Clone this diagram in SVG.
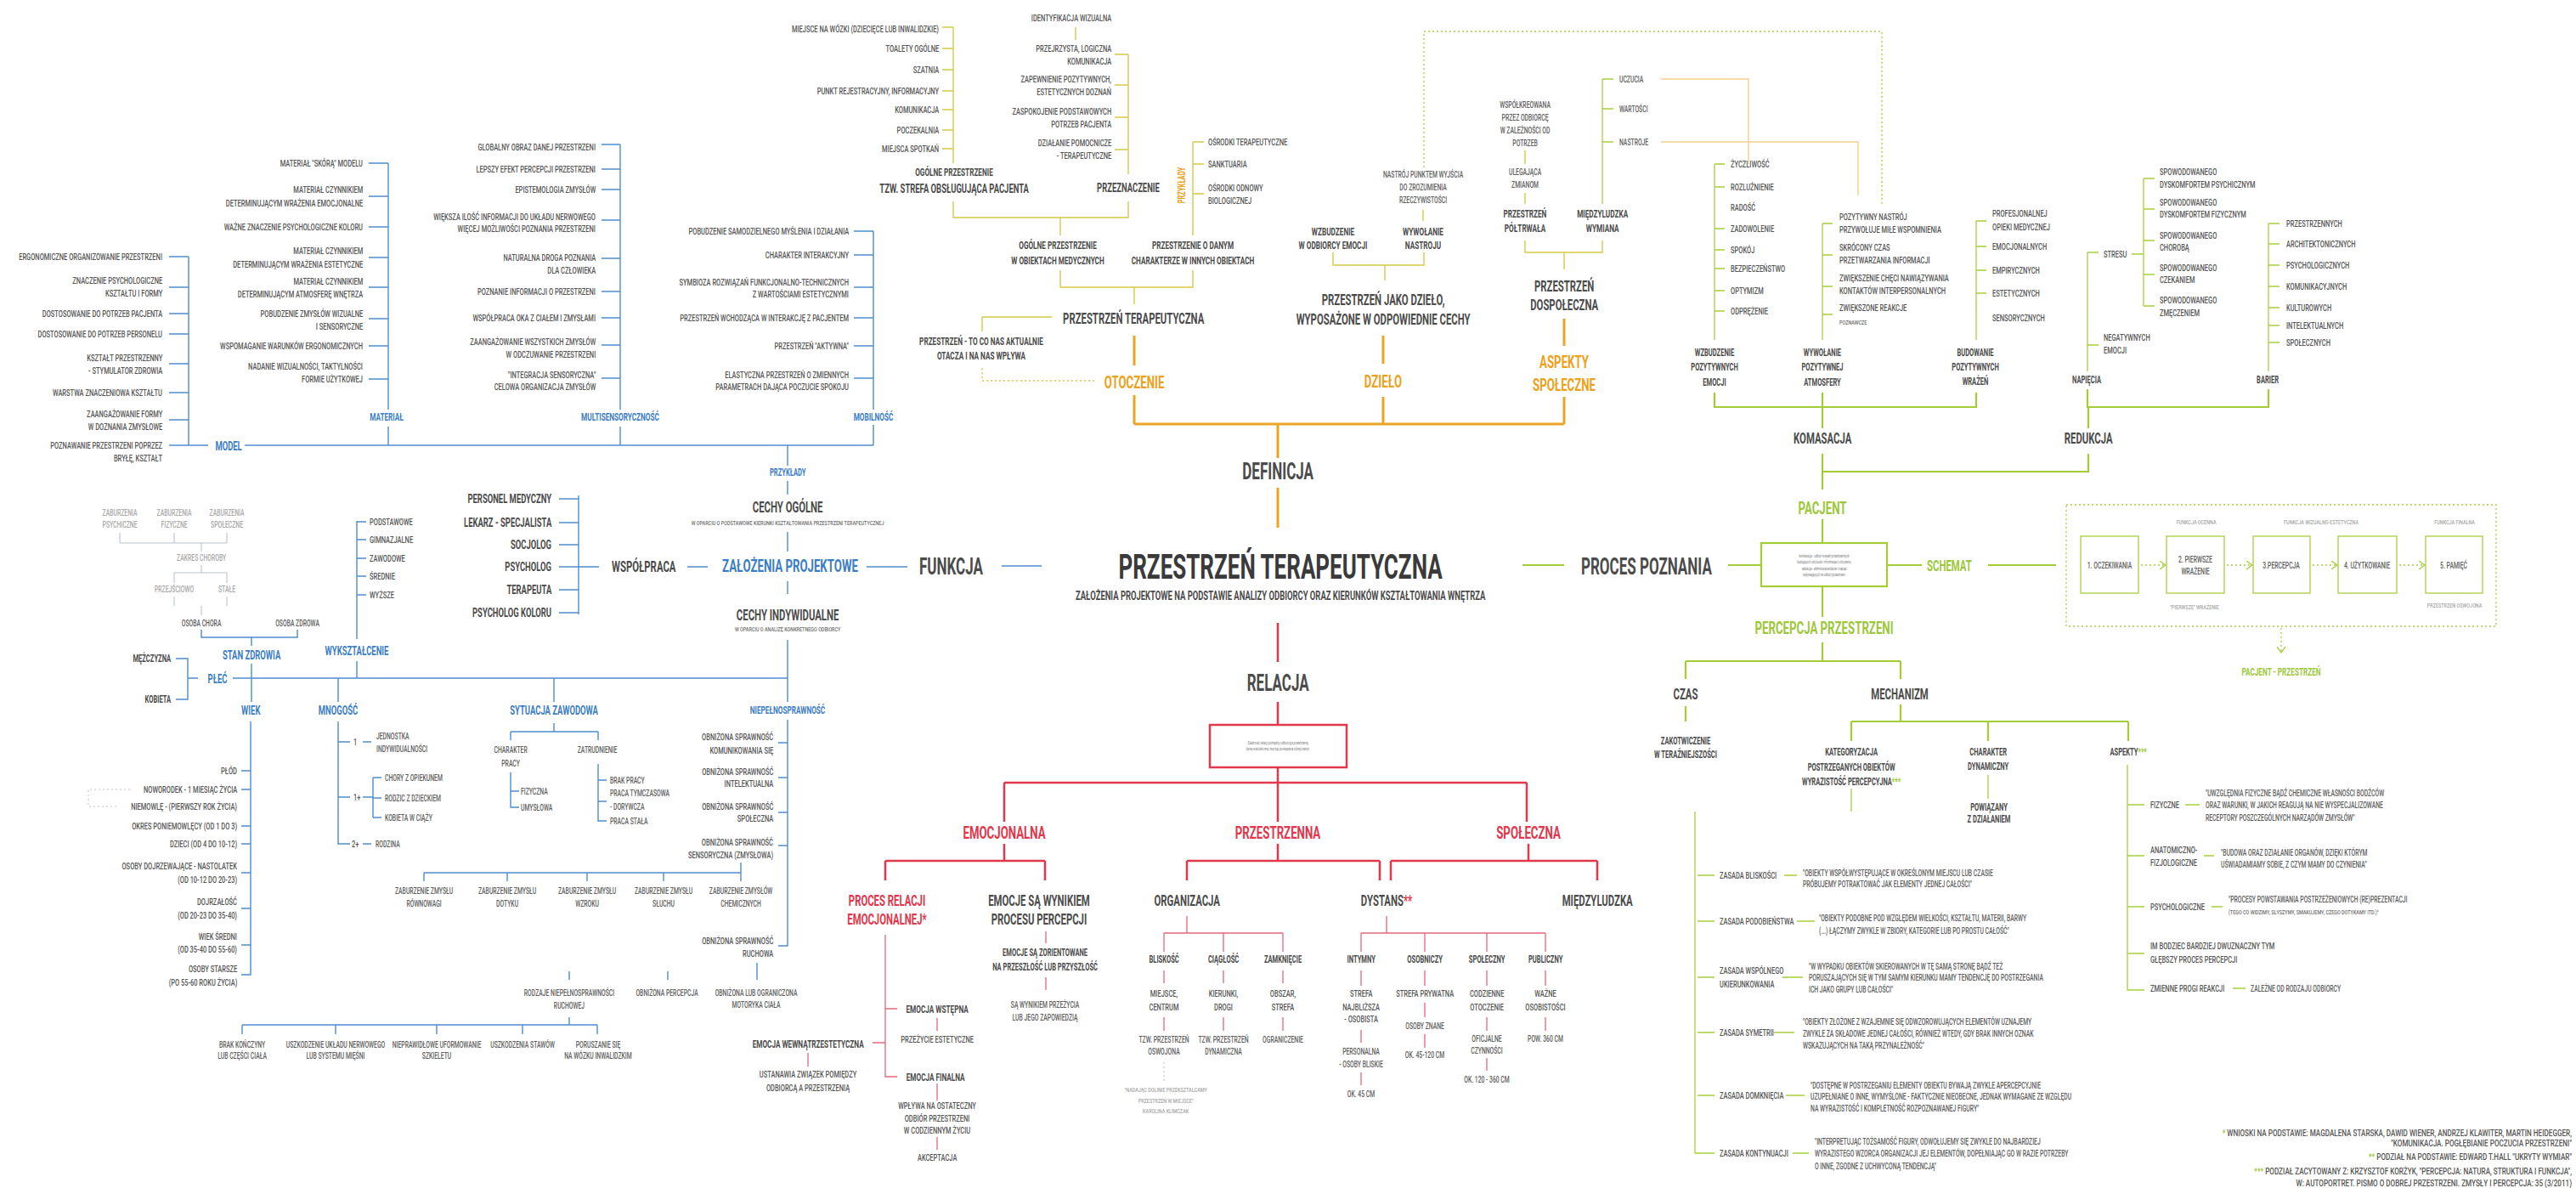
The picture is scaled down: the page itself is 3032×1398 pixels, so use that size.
<svg xmlns="http://www.w3.org/2000/svg" width="3032" height="1398" viewBox="0 0 3032 1398">
<style>
text{font-family:Roboto,"Liberation Sans",Arial,sans-serif;font-weight:700;fill:#4b4b4b;transform-box:fill-box;transform-origin:left center;transform:scaleX(.63)}
.c{text-anchor:middle;transform-origin:center}
.e{text-anchor:end;transform-origin:right center}
.xs{font-size:8px;font-weight:500;fill:#707070;transform:scaleX(.68)}
.s2{font-size:10px;font-weight:500;fill:#5e5e5e;transform:scaleX(.68)}
.s{font-size:11px;font-weight:500;fill:#555;transform:scaleX(.68)}
.fn{font-size:11px;font-weight:500;fill:#555;transform:scaleX(.74)}
.s3{font-size:12px}
.m{font-size:13px}
.m2{font-size:15px}
.ml{font-size:18px}
.l{font-size:21px}
.xl{font-size:27px}
.tt{font-size:40px;fill:#3a3a3a;transform:scaleX(.65)}
.b{fill:#3a7dc5}
.o{fill:#eba11a}
.r{fill:#e1364b}
.g{fill:#9dc73a}
.lt{fill:#a8a8a8}
.cb{stroke:#4f8dcd;stroke-width:1.4;fill:none}
.cgy{stroke:#b9c3cc;stroke-width:1.1;fill:none}
.cy{stroke:#d6ca45;stroke-width:1.4;fill:none}
.co{stroke:#eba524;stroke-width:3;fill:none}
.clo{stroke:#f2d08a;stroke-width:1.4;fill:none}
.cr{stroke:#e2384c;stroke-width:2.5;fill:none}
.cr1{stroke:#e5677a;stroke-width:1.3;fill:none}
.cg{stroke:#a3cc35;stroke-width:2.2;fill:none}
.cg1{stroke:#a8cf3e;stroke-width:1.3;fill:none}
.dot{stroke-dasharray:2 3}
</style>
<defs>
<marker id="chev" viewBox="0 0 8 10" refX="7" refY="5" markerWidth="8" markerHeight="10" markerUnits="userSpaceOnUse" orient="auto">
<path d="M0 0L7 5L0 10" fill="none" stroke="#a3cc35" stroke-width="1.3"/>
</marker>
</defs>
<rect width="3032" height="1398" fill="#ffffff"/>

<!-- connectors -->
<g id="connectors">
<!-- funkcja: model / materiał / multisensoryczność / mobilność -->
<path class="cb" d="M222 302V524M199 302H222M199 338H222M199 369H222M199 393H222M199 428H222M199 462H222M199 494H222M199 524H245M288 524H1028M457 192V482M434 192H457M434 231H457M434 267H457M434 303H457M434 338H457M434 375H457M434 407H457M434 446H457M457 502V524M730 170V482M708 170H730M708 199H730M708 223H730M708 259H730M708 304H730M708 343H730M708 374H730M708 406H730M708 445H730M730 502V524M1028 272V482M1005 272H1028M1005 300H1028M1005 338H1028M1005 374H1028M1005 407H1028M1005 445H1028M1028 500V524"/>
<path class="cb" d="M927 524V548M927 566V582M927 626V649M927 684V699M927 753V826M274 798H927M681 583V723M658 587H681M658 615H681M658 641H681M658 667H681M658 694H681M658 721H681M681 667H705"/>
<path class="cb" stroke-width="2.2" d="M809 667H833M1020 667H1068"/>
<path class="cb" stroke-width="4.5" d="M1179 666H1226"/>
<!-- odbiorca -->
<path class="cb" d="M207 775H221V823H207M221 798H233M296 750V760M296 781V826M420 778V798M420 613V752M420 614H431M420 635H431M420 657H431M420 678H431M420 700H431M398 798V826M652 798V826M237 741V750H350V741"/>
<path class="cgy" d="M141 627V639M205 627V639M267 627V639M141 639H267M237 639V649M237 665V674M205 674H267M205 674V686M267 674V686M205 702V713M267 702V713M237 713V724"/>
<path class="cb" d="M398 849V993H412M398 873H412M427 873H437M398 938H412M427 938H439M439 915V962M439 915H449M439 939H449M439 962H449M427 993H437M652 851V861M601 861H704M601 861V871M704 861V871M601 909V950H611M601 931H611M704 899V966H714M704 918H714M704 943H714"/>
<path class="cb" d="M295 849V1147H284M284 907H295M284 929H295M284 972H295M284 993H295M284 1027H295M284 1069H295M284 1112H295"/>
<path class="cgy dot" d="M153 929H104V949H138"/>
<path class="cb" d="M927 847V1113H916M916 874H927M916 915H927M916 956H927M916 995H927M872 1015V1027M499 1027H872M499 1027V1037M597 1027V1037M691 1027V1037M781 1027V1037M872 1027V1037M891 1133V1153M786 1143V1153M670 1143V1153M670 1197V1206M285 1206H703M285 1206V1217M395 1206V1217M514 1206V1217M615 1206V1217M703 1206V1217"/>
<!-- definicja -->
<path class="cy" d="M1122 32V192M1109 32H1122M1109 57H1122M1109 82H1122M1109 107H1122M1109 129H1122M1109 153H1122M1109 175H1122M1122 237V256H1328V237M1248 256V277M1266 32V47M1328 64V205M1312 64H1328M1312 100H1328M1312 138H1328M1312 176H1328M1404 167V277M1404 167H1417M1404 193H1417M1404 228H1417M1248 318V338H1404V318M1335 338V358M1156 390V373H1238M1569 297V312H1676V297M1630 312V330M1675 247V260M1795 177V193M1795 227V240M1795 283V297H1886V283M1841 297V317"/>
<path class="cg1" d="M1886 93V240M1886 93H1899M1886 128H1899M1886 167H1899"/>
<path class="clo" d="M1955 93H2058V193M1955 167H2187V230"/>
<path class="cg1 dot" d="M1676 197V37H2215V240"/>
<path class="cy dot" d="M1156 433V448H1290"/>
<path class="co" d="M1335 395V430M1335 465V499M1335 499H1841M1504 499V539M1504 574V621M1628 395V428M1628 467V499M1841 375V407M1841 467V499"/>
<!-- relacja -->
<path class="cr" d="M1504 733V779M1504 826V853M1504 903V921M1182 921H1797M1182 921V967M1504 921V967M1797 921V967M1182 993V1013M1042 1013H1230M1042 1013V1036M1230 1013V1036M1504 993V1013M1397 1013H1624M1397 1013V1036M1624 1013V1036M1799 993V1013M1637 1013H1880M1637 1013V1036M1880 1013V1036"/>
<rect class="cr" x="1424" y="853" width="161" height="50"/>
<path class="cr1" d="M1042 1100V1267H1056M1042 1187H1056M1027 1227H1042M1231 1096V1110M1231 1150V1165M1103 1198V1213M951 1239V1255M1103 1275V1295M1103 1338V1353M1397 1078V1098M1370 1098H1510M1370 1098V1120M1440 1098V1120M1510 1098V1120M1370 1142V1157M1440 1142V1157M1510 1142V1157M1370 1197V1213M1440 1197V1213M1510 1197V1213M1632 1078V1098M1602 1098H1819M1602 1098V1120M1677 1098V1120M1750 1098V1120M1819 1098V1120M1602 1142V1160M1677 1142V1160M1750 1142V1160M1819 1142V1160M1602 1212V1227M1602 1262V1277M1677 1180V1197M1677 1217V1233M1750 1197V1213M1750 1245V1260M1819 1197V1213"/>
<path class="cgy dot" d="M1370 1250V1273"/>
<!-- proces poznania -->
<path class="cg1" d="M2018 193V400M2018 193H2030M2018 220H2030M2018 269H2030M2018 294H2030M2018 316H2030M2018 342H2030M2018 366H2030M2145 263V400M2145 263H2157M2145 300H2157M2145 337H2157M2145 370H2157M2326 260V400M2326 260H2338M2326 290H2338M2326 318H2338M2326 345H2338M2457 297V437M2457 297H2470M2457 406H2470M2509 299H2523M2523 210V360M2523 210H2536M2523 246H2536M2523 283H2536M2523 323H2536M2523 360H2536M2670 263V437M2670 263H2683M2670 287H2683M2670 312H2683M2670 337H2683M2670 362H2683M2670 383H2683M2670 403H2683"/>
<path class="cg" d="M2018 462V479H2326V462M2145 462V504M2145 534V576M2145 555H2458V534M2457 458V479H2670V458M2458 479V504M2145 611V639M2034 665H2073M2221 665H2262M2340 665H2420M2145 690V726M2145 756V778M1984 778H2237M1984 778V799M2237 778V799M1984 831V849M2237 829V849M2179 849H2505M2179 849V872M2340 849V872M2505 849V872"/>
<path class="cg" stroke-width="5" d="M1792 665H1841"/>
<rect class="cg" x="2073" y="639" width="148" height="51"/>
<path class="cg1" d="M2340 912V940M2179 928V955M1995 955V1357H2018M1998 1030H2018M1998 1084H2018M1998 1150H2018M1998 1215H2018M1998 1289H2018M2100 1030H2115M2115 1084H2136M2098 1150H2122M2088 1215H2112M2102 1289H2124M2110 1357H2129M2504 900V1165H2524M2504 947H2524M2504 1007H2524M2504 1067H2524M2504 1122H2524M2572 947H2589M2594 1007H2606M2603 1067H2616M2628 1163H2643"/>
<rect class="cg1 dot" x="2432" y="594" width="506" height="143"/>
<rect class="cg1" x="2449" y="631" width="68" height="67"/>
<rect class="cg1" x="2550" y="631" width="68" height="67"/>
<rect class="cg1" x="2652" y="631" width="67" height="67"/>
<rect class="cg1" x="2752" y="631" width="69" height="67"/>
<rect class="cg1" x="2855" y="631" width="67" height="67"/>
<path class="cg1 dot" marker-end="url(#chev)" d="M2520 665H2549"/>
<path class="cg1 dot" marker-end="url(#chev)" d="M2621 665H2651"/>
<path class="cg1 dot" marker-end="url(#chev)" d="M2722 665H2751"/>
<path class="cg1 dot" marker-end="url(#chev)" d="M2824 665H2854"/>
<path class="cg1 dot" marker-end="url(#chev)" d="M2685 739V768"/>
</g>

<!-- central title -->
<g id="title"><text class="tt c" x="1507" y="681">PRZESTRZEŃ TERAPEUTYCZNA</text><text class="m2 c" x="1507" y="706">ZAŁOŻENIA PROJEKTOWE NA PODSTAWIE ANALIZY ODBIORCY ORAZ KIERUNKÓW KSZTAŁTOWANIA WNĘTRZA</text></g>
<g id="funkcja"><text class="xl" x="1082" y="676">FUNKCJA</text></g>
<g id="definicja"><text class="xl c" x="1504" y="564">DEFINICJA</text></g>
<g id="relacja"><text class="xl c" x="1504" y="813">RELACJA</text></g>
<g id="proces-poznania"><text class="xl" x="1861" y="676">PROCES POZNANIA</text></g>

<!-- funkcja branch -->
<g id="zalozenia"><text class="l b c" x="930" y="673">ZAŁOŻENIA PROJEKTOWE</text></g>
<g id="wspolpraca"><text class="ml" x="720" y="673">WSPÓŁPRACA</text></g>
<g id="cechy-ogolne"><text class="ml c" x="927" y="603">CECHY OGÓLNE</text><text class="xs c" x="927" y="618">W OPARCIU O PODSTAWOWE KIERUNKI KSZTAŁTOWANIA PRZESTRZENI TERAPEUTYCZNEJ</text></g>
<g id="cechy-indywidualne"><text class="ml c" x="927" y="730">CECHY INDYWIDUALNE</text><text class="xs c" x="927" y="743">W OPARCIU O ANALIZĘ KONKRETNEGO ODBIORCY</text></g>
<g id="przyklady-f"><text class="s3 b c" x="927" y="560">PRZYKŁADY</text></g>
<g id="model"><text class="m2 b c" x="269" y="530">MODEL</text></g>
<g id="material"><text class="m b c" x="455" y="495">MATERIAŁ</text></g>
<g id="multisens"><text class="m b c" x="730" y="495">MULTISENSORYCZNOŚĆ</text></g>
<g id="mobilnosc"><text class="m b c" x="1028" y="495">MOBILNOŚĆ</text></g>

<g id="model-items">
<text class="s e" x="191" y="306">ERGONOMICZNE ORGANIZOWANIE PRZESTRZENI</text>
<text class="s e" x="191" y="334">ZNACZENIE PSYCHOLOGICZNE<tspan x="191" y="349">KSZTAŁTU I FORMY</tspan></text>
<text class="s e" x="191" y="373">DOSTOSOWANIE DO  POTRZEB PACJENTA</text>
<text class="s e" x="191" y="397">DOSTOSOWANIE DO POTRZEB PERSONELU</text>
<text class="s e" x="191" y="425">KSZTAŁT PRZESTRZENNY<tspan x="191" y="440">- STYMULATOR ZDROWIA</tspan></text>
<text class="s e" x="191" y="466">WARSTWA ZNACZENIOWA KSZTAŁTU</text>
<text class="s e" x="191" y="491">ZAANGAŻOWANIE FORMY<tspan x="191" y="506">W DOZNANIA ZMYSŁOWE</tspan></text>
<text class="s e" x="191" y="528">POZNAWANIE PRZESTRZENI POPRZEZ<tspan x="191" y="543">BRYŁĘ, KSZTAŁT</tspan></text>
</g>
<g id="material-items">
<text class="s e" x="427" y="196">MATERIAŁ "SKÓRĄ" MODELU</text>
<text class="s e" x="427" y="227">MATERIAŁ CZYNNIKIEM<tspan x="427" y="243">DETERMINUJĄCYM WRAŻENIA EMOCJONALNE</tspan></text>
<text class="s e" x="427" y="271">WAŻNE ZNACZENIE PSYCHOLOGICZNE KOLORU</text>
<text class="s e" x="427" y="299">MATERIAŁ CZYNNIKIEM<tspan x="427" y="315">DETERMINUJĄCYM WRAŻENIA ESTETYCZNE</tspan></text>
<text class="s e" x="427" y="335">MATERIAŁ CZYNNIKIEM<tspan x="427" y="350">DETERMINUJĄCYM ATMOSFERĘ WNĘTRZA</tspan></text>
<text class="s e" x="427" y="373">POBUDZENIE ZMYSŁÓW WIZUALNE<tspan x="427" y="388">I SENSORYCZNE</tspan></text>
<text class="s e" x="427" y="411">WSPOMAGANIE WARUNKÓW ERGONOMICZNYCH</text>
<text class="s e" x="427" y="435">NADANIE WIZUALNOŚCI, TAKTYLNOŚCI<tspan x="427" y="450">FORMIE UŻYTKOWEJ</tspan></text>
</g>
<g id="multisens-items">
<text class="s e" x="701" y="177">GLOBALNY OBRAZ DANEJ PRZESTRZENI</text>
<text class="s e" x="701" y="203">LEPSZY EFEKT PERCEPCJI PRZESTRZENI</text>
<text class="s e" x="701" y="227">EPISTEMOLOGIA ZMYSŁÓW</text>
<text class="s e" x="701" y="259">WIĘKSZA ILOŚĆ INFORMACJI DO UKŁADU NERWOWEGO<tspan x="701" y="273">WIĘCEJ MOŻLIWOŚCI POZNANIA PRZESTRZENI</tspan></text>
<text class="s e" x="701" y="307">NATURALNA DROGA POZNANIA<tspan x="701" y="322">DLA CZŁOWIEKA</tspan></text>
<text class="s e" x="701" y="347">POZNANIE INFORMACJI O PRZESTRZENI</text>
<text class="s e" x="701" y="378">WSPÓŁPRACA OKA Z CIAŁEM I ZMYSŁAMI</text>
<text class="s e" x="701" y="406">ZAANGAŻOWANIE WSZYSTKICH ZMYSŁÓW<tspan x="701" y="421">W ODCZUWANIE PRZESTRZENI</tspan></text>
<text class="s e" x="701" y="445">"INTEGRACJA SENSORYCZNA"<tspan x="701" y="459">CELOWA ORGANIZACJA ZMYSŁÓW</tspan></text>
</g>
<g id="mobilnosc-items">
<text class="s e" x="999" y="276">POBUDZENIE SAMODZIELNEGO MYŚLENIA I DZIAŁANIA</text>
<text class="s e" x="999" y="304">CHARAKTER INTERAKCYJNY</text>
<text class="s e" x="999" y="336">SYMBIOZA ROZWIĄZAŃ FUNKCJONALNO-TECHNICZNYCH<tspan x="999" y="350">Z WARTOŚCIAMI ESTETYCZNYMI</tspan></text>
<text class="s e" x="999" y="378">PRZESTRZEŃ WCHODZĄCA W INTERAKCJĘ Z PACJENTEM</text>
<text class="s e" x="999" y="411">PRZESTRZEŃ "AKTYWNA"</text>
<text class="s e" x="999" y="445">ELASTYCZNA PRZESTRZEŃ O ZMIENNYCH<tspan x="999" y="459">PARAMETRACH DAJĄCA POCZUCIE SPOKOJU</tspan></text>
</g>
<g id="personel">
<text class="m2 e" x="649" y="592">PERSONEL MEDYCZNY</text>
<text class="m2 e" x="649" y="620">LEKARZ - SPECJALISTA</text>
<text class="m2 e" x="649" y="646">SOCJOLOG</text>
<text class="m2 e" x="649" y="672">PSYCHOLOG</text>
<text class="m2 e" x="649" y="699">TERAPEUTA</text>
<text class="m2 e" x="649" y="726">PSYCHOLOG KOLORU</text>
</g>

<!-- odbiorca -->
<g id="plec"><text class="m2 b c" x="256" y="804">PŁEĆ</text></g>
<g id="plec-items"><text class="s3 e" x="201" y="779">MĘŻCZYZNA</text><text class="s3 e" x="201" y="827">KOBIETA</text></g>
<g id="stan-zdrowia"><text class="m2 b c" x="296" y="776">STAN ZDROWIA</text></g>
<g id="zdrowie-items">
<text class="s2 c lt" x="141" y="607">ZABURZENIA<tspan x="141" y="621">PSYCHICZNE</tspan></text>
<text class="s2 c lt" x="205" y="607">ZABURZENIA<tspan x="205" y="621">FIZYCZNE</tspan></text>
<text class="s2 c lt" x="267" y="607">ZABURZENIA<tspan x="267" y="621">SPOŁECZNE</tspan></text>
<text class="s2 c lt" x="237" y="660">ZAKRES CHOROBY</text>
<text class="s2 c lt" x="205" y="697">PRZEJŚCIOWO</text>
<text class="s2 c lt" x="267" y="697">STAŁE</text>
<text class="s2 c" x="237" y="737">OSOBA CHORA</text>
<text class="s2 c" x="350" y="737">OSOBA ZDROWA</text>
</g>
<g id="wyksztalcenie"><text class="m2 b c" x="420" y="771">WYKSZTAŁCENIE</text></g>
<g id="wyksztalcenie-items">
<text class="s" x="435" y="618">PODSTAWOWE</text>
<text class="s" x="435" y="639">GIMNAZJALNE</text>
<text class="s" x="435" y="661">ZAWODOWE</text>
<text class="s" x="435" y="682">ŚREDNIE</text>
<text class="s" x="435" y="704">WYŻSZE</text>
</g>
<g id="wiek"><text class="m2 b c" x="295" y="841">WIEK</text></g>
<g id="wiek-items">
<text class="s e" x="279" y="911">PŁÓD</text>
<text class="s e" x="279" y="933">NOWORODEK - 1 MIESIĄC ŻYCIA</text>
<text class="s e" x="279" y="953">NIEMOWLĘ - (PIERWSZY ROK ŻYCIA)</text>
<text class="s e" x="279" y="976">OKRES PONIEMOWLĘCY (OD 1 DO 3)</text>
<text class="s e" x="279" y="997">DZIECI (OD 4 DO 10-12)</text>
<text class="s e" x="279" y="1023">OSOBY DOJRZEWAJĄCE - NASTOLATEK<tspan x="279" y="1039">(OD 10-12 DO 20-23)</tspan></text>
<text class="s e" x="279" y="1065">DOJRZAŁOŚĆ<tspan x="279" y="1081">(OD 20-23 DO 35-40)</tspan></text>
<text class="s e" x="279" y="1106">WIEK ŚREDNI<tspan x="279" y="1121">(OD 35-40 DO 55-60)</tspan></text>
<text class="s e" x="279" y="1144">OSOBY STARSZE<tspan x="279" y="1160">(PO 55-60 ROKU ŻYCIA)</tspan></text>
</g>
<g id="mnogosc"><text class="m2 b c" x="398" y="841">MNOGOŚĆ</text></g>
<g id="mnogosc-items">
<text class="s" x="416" y="877">1</text>
<text class="s2" x="443" y="870">JEDNOSTKA<tspan x="443" y="885">INDYWIDUALNOŚCI</tspan></text>
<text class="s" x="416" y="942">1+</text>
<text class="s2" x="453" y="919">CHORY Z OPIEKUNEM</text>
<text class="s2" x="453" y="943">RODZIC Z DZIECKIEM</text>
<text class="s2" x="453" y="966">KOBIETA W CIĄŻY</text>
<text class="s" x="414" y="997">2+</text>
<text class="s2" x="442" y="997">RODZINA</text>
</g>
<g id="sytuacja"><text class="m2 b c" x="652" y="841">SYTUACJA ZAWODOWA</text></g>
<g id="sytuacja-items">
<text class="s2 c" x="601" y="886">CHARAKTER<tspan x="601" y="902">PRACY</tspan></text>
<text class="s2 c" x="703" y="886">ZATRUDNIENIE</text>
<text class="s2" x="613" y="935">FIZYCZNA</text>
<text class="s2" x="613" y="954">UMYSŁOWA</text>
<text class="s2" x="718" y="922">BRAK PRACY</text>
<text class="s2" x="718" y="937">PRACA TYMCZASOWA</text>
<text class="s2" x="718" y="953">- DORYWCZA</text>
<text class="s2" x="718" y="970">PRACA STAŁA</text>
</g>
<g id="niepelnosprawnosc"><text class="m b c" x="927" y="840">NIEPEŁNOSPRAWNOŚĆ</text></g>
<g id="niepelno-items">
<text class="s e" x="910" y="871">OBNIŻONA SPRAWNOŚĆ<tspan x="910" y="887">KOMUNIKOWANIA SIĘ</tspan></text>
<text class="s e" x="910" y="912">OBNIŻONA SPRAWNOŚĆ<tspan x="910" y="926">INTELEKTUALNA</tspan></text>
<text class="s e" x="910" y="953">OBNIŻONA SPRAWNOŚĆ<tspan x="910" y="967">SPOŁECZNA</tspan></text>
<text class="s e" x="910" y="995">OBNIŻONA SPRAWNOŚĆ<tspan x="910" y="1010">SENSORYCZNA (ZMYSŁOWA)</tspan></text>
<text class="s e" x="910" y="1111">OBNIŻONA SPRAWNOŚĆ<tspan x="910" y="1126">RUCHOWA</tspan></text>
</g>
<g id="zmysly-items">
<text class="s2 c" x="499" y="1052">ZABURZENIE ZMYSŁU<tspan x="499" y="1067">RÓWNOWAGI</tspan></text>
<text class="s2 c" x="597" y="1052">ZABURZENIE ZMYSŁU<tspan x="597" y="1067">DOTYKU</tspan></text>
<text class="s2 c" x="691" y="1052">ZABURZENIE ZMYSŁU<tspan x="691" y="1067">WZROKU</tspan></text>
<text class="s2 c" x="781" y="1052">ZABURZENIE ZMYSŁU<tspan x="781" y="1067">SŁUCHU</tspan></text>
<text class="s2 c" x="872" y="1052">ZABURZENIE ZMYSŁÓW<tspan x="872" y="1067">CHEMICZNYCH</tspan></text>
</g>
<g id="ruch-items">
<text class="s2 c" x="890" y="1172">OBNIŻONA LUB OGRANICZONA<tspan x="890" y="1186">MOTORYKA CIAŁA</tspan></text>
<text class="s2 c" x="785" y="1172">OBNIŻONA PERCEPCJA</text>
<text class="s2 c" x="670" y="1172">RODZAJE NIEPEŁNOSPRAWNOŚCI<tspan x="670" y="1187">RUCHOWEJ</tspan></text>
<text class="s2 c" x="285" y="1233">BRAK KOŃCZYNY<tspan x="285" y="1246">LUB CZĘŚCI CIAŁA</tspan></text>
<text class="s2 c" x="395" y="1233">USZKODZENIE UKŁADU NERWOWEGO<tspan x="395" y="1246">LUB SYSTEMU MIĘŚNI</tspan></text>
<text class="s2 c" x="514" y="1233">NIEPRAWIDŁOWE UFORMOWANIE<tspan x="514" y="1246">SZKIELETU</tspan></text>
<text class="s2 c" x="615" y="1233">USZKODZENIA STAWÓW</text>
<text class="s2 c" x="704" y="1233">PORUSZANIE SIĘ<tspan x="704" y="1246">NA WÓZKU INWALIDZKIM</tspan></text>
</g>

<!-- definicja branch -->
<g id="otoczenie"><text class="l o c" x="1335" y="457">OTOCZENIE</text></g>
<g id="dzielo"><text class="l o c" x="1628" y="456">DZIEŁO</text></g>
<g id="aspekty-spoleczne"><text class="l o c" x="1841" y="433">ASPEKTY<tspan x="1841" y="460">SPOŁECZNE</tspan></text></g>
<g id="przestrzen-ter"><text class="ml c" x="1334" y="381">PRZESTRZEŃ TERAPEUTYCZNA</text></g>
<g id="to-co-nas"><text class="m c" x="1155" y="406">PRZESTRZEŃ - TO CO NAS AKTUALNIE<tspan x="1155" y="423">OTACZA I NA NAS WPŁYWA</tspan></text></g>
<g id="ogolne-med"><text class="m c" x="1245" y="293">OGÓLNE PRZESTRZENIE<tspan x="1245" y="311">W OBIEKTACH MEDYCZNYCH</tspan></text></g>
<g id="o-danym"><text class="m c" x="1404" y="293">PRZESTRZENIE O DANYM<tspan x="1404" y="311">CHARAKTERZE W INNYCH OBIEKTACH</tspan></text></g>
<g id="strefa"><text class="m c" x="1123" y="207">OGÓLNE PRZESTRZENIE</text><text class="m2 c" x="1123" y="227">TZW. STREFA OBSŁUGUJĄCA PACJENTA</text></g>
<g id="strefa-items">
<text class="s e" x="1105" y="38">MIEJSCE NA WÓZKI (DZIECIĘCE LUB INWALIDZKIE)</text>
<text class="s e" x="1105" y="61">TOALETY OGÓLNE</text>
<text class="s e" x="1105" y="86">SZATNIA</text>
<text class="s e" x="1105" y="111">PUNKT REJESTRACYJNY, INFORMACYJNY</text>
<text class="s e" x="1105" y="133">KOMUNIKACJA</text>
<text class="s e" x="1105" y="157">POCZEKALNIA</text>
<text class="s e" x="1105" y="179">MIEJSCA SPOTKAŃ</text>
</g>
<g id="przeznaczenie"><text class="m2 c" x="1328" y="226">PRZEZNACZENIE</text></g>
<g id="przeznaczenie-items">
<text class="s e" x="1308" y="25">IDENTYFIKACJA WIZUALNA</text>
<text class="s e" x="1308" y="61">PRZEJRZYSTA, LOGICZNA<tspan x="1308" y="76">KOMUNIKACJA</tspan></text>
<text class="s e" x="1308" y="97">ZAPEWNIENIE POZYTYWNYCH,<tspan x="1308" y="112">ESTETYCZNYCH DOZNAŃ</tspan></text>
<text class="s e" x="1308" y="135">ZASPOKOJENIE PODSTAWOWYCH<tspan x="1308" y="150">POTRZEB PACJENTA</tspan></text>
<text class="s e" x="1308" y="172">DZIAŁANIE POMOCNICZE<tspan x="1308" y="187">- TERAPEUTYCZNE</tspan></text>
</g>
<g id="przyklady-d"><text class="s3 o c" x="1390" y="222" style="transform:rotate(-90deg) scaleX(.63)">PRZYKŁADY</text></g>
<g id="przyklady-items">
<text class="s" x="1422" y="171">OŚRODKI TERAPEUTYCZNE</text>
<text class="s" x="1422" y="197">SANKTUARIA</text>
<text class="s" x="1422" y="225">OŚRODKI ODNOWY<tspan x="1422" y="240">BIOLOGICZNEJ</tspan></text>
</g>
<g id="dzielo-cechy"><text class="ml c" x="1628" y="359">PRZESTRZEŃ JAKO DZIEŁO,<tspan x="1628" y="382">WYPOSAŻONE W ODPOWIEDNIE CECHY</tspan></text></g>
<g id="wzbudzenie-emocji"><text class="m c" x="1569" y="277">WZBUDZENIE<tspan x="1569" y="293">W ODBIORCY EMOCJI</tspan></text></g>
<g id="wywolanie-nastroju"><text class="m c" x="1675" y="277">WYWOŁANIE<tspan x="1675" y="293">NASTROJU</tspan></text></g>
<g id="nastroj-punkt"><text class="s2 c" x="1675" y="209">NASTRÓJ PUNKTEM WYJŚCIA<tspan x="1675" y="224">DO ZROZUMIENIA</tspan><tspan x="1675" y="239">RZECZYWISTOŚCI</tspan></text></g>
<g id="dospoleczna"><text class="ml c" x="1841" y="343">PRZESTRZEŃ<tspan x="1841" y="365">DOSPOŁECZNA</tspan></text></g>
<g id="poltrwala"><text class="m c" x="1795" y="256">PRZESTRZEŃ<tspan x="1795" y="273">PÓŁTRWAŁA</tspan></text></g>
<g id="wymiana"><text class="m c" x="1886" y="256">MIĘDZYLUDZKA<tspan x="1886" y="273">WYMIANA</tspan></text></g>
<g id="ulegajaca"><text class="s2 c" x="1795" y="206">ULEGAJĄCA<tspan x="1795" y="221">ZMIANOM</tspan></text></g>
<g id="wspolkreowana"><text class="s2 c" x="1795" y="127">WSPÓŁKREOWANA<tspan x="1795" y="142">PRZEZ ODBIORCĘ</tspan><tspan x="1795" y="157">W ZALEŻNOŚCI OD</tspan><tspan x="1795" y="172">POTRZEB</tspan></text></g>
<g id="wymiana-items">
<text class="s2" x="1906" y="97">UCZUCIA</text>
<text class="s2" x="1906" y="132">WARTOŚCI</text>
<text class="s2" x="1906" y="171">NASTROJE</text>
</g>

<!-- proces poznania branch -->
<g id="emocje-items">
<text class="s" x="2037" y="197">ŻYCZLIWOŚĆ</text>
<text class="s" x="2037" y="224">ROZLUŹNIENIE</text>
<text class="s" x="2037" y="248">RADOŚĆ</text>
<text class="s" x="2037" y="273">ZADOWOLENIE</text>
<text class="s" x="2037" y="298">SPOKÓJ</text>
<text class="s" x="2037" y="320">BEZPIECZEŃSTWO</text>
<text class="s" x="2037" y="346">OPTYMIZM</text>
<text class="s" x="2037" y="370">ODPRĘŻENIE</text>
</g>
<g id="wzbudzenie-poz"><text class="s3 c" x="2018" y="419">WZBUDZENIE<tspan x="2018" y="436">POZYTYWNYCH</tspan><tspan x="2018" y="454">EMOCJI</tspan></text></g>
<g id="atmosfera-items">
<text class="s" x="2165" y="259">POZYTYWNY NASTRÓJ<tspan x="2165" y="274">PRZYWOŁUJE MIŁE WSPOMNIENIA</tspan></text>
<text class="s" x="2165" y="295">SKRÓCONY CZAS<tspan x="2165" y="310">PRZETWARZANIA INFORMACJI</tspan></text>
<text class="s" x="2165" y="331">ZWIĘKSZENIE CHĘCI NAWIĄZYWANIA<tspan x="2165" y="346">KONTAKTÓW INTERPERSONALNYCH</tspan></text>
<text class="s" x="2165" y="366">ZWIĘKSZONE REAKCJE<tspan x="2165" y="382" class="xs">POZNAWCZE</tspan></text>
</g>
<g id="wywolanie-atm"><text class="s3 c" x="2145" y="419">WYWOŁANIE<tspan x="2145" y="436">POZYTYWNEJ</tspan><tspan x="2145" y="454">ATMOSFERY</tspan></text></g>
<g id="wrazenia-items">
<text class="s" x="2345" y="255">PROFESJONALNEJ<tspan x="2345" y="271">OPIEKI MEDYCZNEJ</tspan></text>
<text class="s" x="2345" y="294">EMOCJONALNYCH</text>
<text class="s" x="2345" y="322">EMPIRYCZNYCH</text>
<text class="s" x="2345" y="349">ESTETYCZNYCH</text>
<text class="s" x="2345" y="378">SENSORYCZNYCH</text>
</g>
<g id="budowanie"><text class="s3 c" x="2325" y="419">BUDOWANIE<tspan x="2325" y="436">POZYTYWNYCH</tspan><tspan x="2325" y="453">WRAŻEŃ</tspan></text></g>
<g id="napiecia-items">
<text class="s" x="2476" y="303">STRESU</text>
<text class="s" x="2476" y="401">NEGATYWNYCH<tspan x="2476" y="416">EMOCJI</tspan></text>
</g>
<g id="stres-items">
<text class="s" x="2542" y="206">SPOWODOWANEGO<tspan x="2542" y="221">DYSKOMFORTEM PSYCHICZNYM</tspan></text>
<text class="s" x="2542" y="242">SPOWODOWANEGO<tspan x="2542" y="256">DYSKOMFORTEM FIZYCZNYM</tspan></text>
<text class="s" x="2542" y="281">SPOWODOWANEGO<tspan x="2542" y="295">CHOROBĄ</tspan></text>
<text class="s" x="2542" y="319">SPOWODOWANEGO<tspan x="2542" y="333">CZEKANIEM</tspan></text>
<text class="s" x="2542" y="357">SPOWODOWANEGO<tspan x="2542" y="372">ZMĘCZENIEM</tspan></text>
</g>
<g id="napiecia"><text class="s3 c" x="2456" y="451">NAPIĘCIA</text></g>
<g id="bariery-items">
<text class="s" x="2691" y="267">PRZESTRZENNYCH</text>
<text class="s" x="2691" y="291">ARCHITEKTONICZNYCH</text>
<text class="s" x="2691" y="316">PSYCHOLOGICZNYCH</text>
<text class="s" x="2691" y="341">KOMUNIKACYJNYCH</text>
<text class="s" x="2691" y="366">KULTUROWYCH</text>
<text class="s" x="2691" y="387">INTELEKTUALNYCH</text>
<text class="s" x="2691" y="407">SPOŁECZNYCH</text>
</g>
<g id="barier"><text class="s3 c" x="2669" y="451">BARIER</text></g>
<g id="komasacja"><text class="ml c" x="2145" y="522">KOMASACJA</text></g>
<g id="redukcja"><text class="ml c" x="2458" y="522">REDUKCJA</text></g>
<g id="pacjent"><text class="l g c" x="2145" y="605">PACJENT</text></g>
<g id="pacjent-box">
<text class="c" x="2147" y="656" style="font-size:5px;font-weight:400;fill:#777">komasacja - odbiór wrażeń przestrzennych</text>
<text class="c" x="2147" y="663" style="font-size:5px;font-weight:400;fill:#777">budujących odczucia i informacje o otoczeniu</text>
<text class="c" x="2147" y="671" style="font-size:5px;font-weight:400;fill:#777">redukcja - eliminowanie barier i napięć</text>
<text class="c" x="2147" y="678" style="font-size:5px;font-weight:400;fill:#777">wpływających na odbiór przestrzeni</text>
</g>
<g id="schemat"><text class="ml g" x="2268" y="672">SCHEMAT</text></g>
<g id="schemat-boxes">
<text class="s2 c" x="2483" y="669">1. OCZEKIWANIA</text>
<text class="s2 c" x="2584" y="662">2. PIERWSZE<tspan x="2584" y="676">WRAŻENIE</tspan></text>
<text class="s2 c" x="2685" y="669">3.PERCEPCJA</text>
<text class="s2 c" x="2786" y="669">4. UŻYTKOWANIE</text>
<text class="s2 c" x="2888" y="669">5. PAMIĘĆ</text>
<text class="xs c lt" x="2585" y="617">FUNKCJA OCENNA</text>
<text class="xs c lt" x="2732" y="617">FUNKCJA WIZUALNO-ESTETYCZNA</text>
<text class="xs c lt" x="2889" y="617">FUNKCJA FINALNA</text>
<text class="xs c lt" x="2583" y="717">"PIERWSZE" WRAŻENIE</text>
<text class="xs c lt" x="2889" y="715">PRZESTRZEŃ OSWOJONA</text>
</g>
<g id="pacjent-przestrzen"><text class="m g c" x="2685" y="795">PACJENT - PRZESTRZEŃ</text></g>
<g id="percepcja"><text class="l g c" x="2147" y="746">PERCEPCJA PRZESTRZENI</text></g>
<g id="czas"><text class="ml c" x="1984" y="823">CZAS</text></g>
<g id="mechanizm"><text class="ml c" x="2236" y="823">MECHANIZM</text></g>
<g id="zakotwiczenie"><text class="s3 c" x="1984" y="876">ZAKOTWICZENIE<tspan x="1984" y="892">W TERAŹNIEJSZOŚCI</tspan></text></g>
<g id="kategoryzacja"><text class="s3 c" x="2179" y="889">KATEGORYZACJA<tspan x="2179" y="907">POSTRZEGANYCH OBIEKTÓW</tspan><tspan x="2179" y="924">WYRAZISTOŚĆ PERCEPCYJNA<tspan class="g">***</tspan></tspan></text></g>
<g id="charakter-dyn"><text class="s3 c" x="2340" y="889">CHARAKTER<tspan x="2340" y="906">DYNAMICZNY</tspan></text></g>
<g id="powiazany"><text class="s3 c" x="2341" y="954">POWIĄZANY<tspan x="2341" y="968">Z DZIAŁANIEM</tspan></text></g>
<g id="aspekty"><text class="s3 c" x="2505" y="889">ASPEKTY<tspan class="g">***</tspan></text></g>
<g id="zasady">
<text class="s" x="2024" y="1034">ZASADA BLISKOŚCI</text>
<text class="s" x="2024" y="1088">ZASADA PODOBIEŃSTWA</text>
<text class="s" x="2024" y="1146">ZASADA WSPÓLNEGO<tspan x="2024" y="1162">UKIERUNKOWANIA</tspan></text>
<text class="s" x="2024" y="1219">ZASADA SYMETRII</text>
<text class="s" x="2024" y="1293">ZASADA DOMKNIĘCIA</text>
<text class="s" x="2024" y="1361">ZASADA KONTYNUACJI</text>
</g>
<g id="zasady-cytaty">
<text class="s2" x="2122" y="1031">"OBIEKTY WSPÓŁWYSTĘPUJĄCE W OKREŚLONYM MIEJSCU LUB CZASIE<tspan x="2122" y="1044">PRÓBUJEMY POTRAKTOWAĆ JAK ELEMENTY JEDNEJ CAŁOŚCI"</tspan></text>
<text class="s2" x="2141" y="1084">"OBIEKTY PODOBNE POD WZGLĘDEM WIELKOŚCI, KSZTAŁTU, MATERII, BARWY<tspan x="2141" y="1099">(...) ŁĄCZYMY ZWYKLE W ZBIORY, KATEGORIE LUB PO PROSTU CAŁOŚĆ"</tspan></text>
<text class="s2" x="2129" y="1141">"W WYPADKU OBIEKTÓW SKIEROWANYCH W TĘ SAMĄ STRONĘ BĄDŹ TEŻ<tspan x="2129" y="1154">PORUSZAJĄCYCH SIĘ W TYM SAMYM KIERUNKU MAMY TENDENCJĘ DO POSTRZEGANIA</tspan><tspan x="2129" y="1168">ICH JAKO GRUPY LUB CAŁOŚCI"</tspan></text>
<text class="s2" x="2122" y="1206">"OBIEKTY ZŁOŻONE Z WZAJEMNIE SIĘ ODWZOROWUJĄCYCH ELEMENTÓW UZNAJEMY<tspan x="2122" y="1220">ZWYKLE ZA SKŁADOWE JEDNEJ CAŁOŚCI, RÓWNIEŻ WTEDY, GDY BRAK INNYCH OZNAK</tspan><tspan x="2122" y="1234">WSKAZUJĄCYCH NA TAKĄ PRZYNALEŻNOŚĆ"</tspan></text>
<text class="s2" x="2131" y="1281">"DOSTĘPNE W POSTRZEGANIU ELEMENTY OBIEKTU BYWAJĄ ZWYKLE APERCEPCYJNIE<tspan x="2131" y="1294">UZUPEŁNIANE O INNE, WYMYŚLONE - FAKTYCZNIE NIEOBECNE, JEDNAK WYMAGANE ZE WZGLĘDU</tspan><tspan x="2131" y="1308">NA WYRAZISTOŚĆ I KOMPLETNOŚĆ ROZPOZNAWANEJ FIGURY"</tspan></text>
<text class="s2" x="2136" y="1347">"INTERPRETUJĄC TOŻSAMOŚĆ FIGURY, ODWOŁUJEMY SIĘ ZWYKLE DO NAJBARDZIEJ<tspan x="2136" y="1361">WYRAZISTEGO WZORCA ORGANIZACJI JEJ ELEMENTÓW, DOPEŁNIAJĄC GO W RAZIE POTRZEBY</tspan><tspan x="2136" y="1376">O INNE, ZGODNE Z UCHWYCONĄ TENDENCJĄ"</tspan></text>
</g>
<g id="aspekty-items">
<text class="s" x="2531" y="951">FIZYCZNE</text>
<text class="s2" x="2596" y="937">"UWZGLĘDNIA FIZYCZNE BĄDŹ CHEMICZNE WŁASNOŚCI BODŹCÓW<tspan x="2596" y="951">ORAZ WARUNKI, W JAKICH REAGUJĄ NA NIE WYSPECJALIZOWANE</tspan><tspan x="2596" y="966">RECEPTORY POSZCZEGÓLNYCH NARZĄDÓW ZMYSŁÓW"</tspan></text>
<text class="s" x="2531" y="1004">ANATOMICZNO-<tspan x="2531" y="1019">FIZJOLOGICZNE</tspan></text>
<text class="s2" x="2614" y="1007">"BUDOWA ORAZ DZIAŁANIE ORGANÓW, DZIĘKI KTÓRYM<tspan x="2614" y="1021">UŚWIADAMIAMY SOBIE, Z CZYM MAMY DO CZYNIENIA"</tspan></text>
<text class="s" x="2531" y="1071">PSYCHOLOGICZNE</text>
<text class="s2" x="2623" y="1062">"PROCESY POWSTAWANIA POSTRZEŻENIOWYCH (RE)PREZENTACJI<tspan x="2623" y="1076" class="xs">(TEGO CO WIDZIMY, SŁYSZYMY, SMAKUJEMY, CZEGO DOTYKAMY ITD.)"</tspan></text>
<text class="s" x="2531" y="1117">IM BODZIEC BARDZIEJ DWUZNACZNY TYM<tspan x="2531" y="1133">GŁĘBSZY PROCES PERCEPCJI</tspan></text>
<text class="s" x="2531" y="1167">ZMIENNE PROGI REAKCJI</text>
<text class="s2" x="2649" y="1167">ZALEŻNE OD RODZAJU ODBIORCY</text>
</g>
<g id="przypisy">
<text class="fn e" x="3027" y="1337"><tspan class="g">* </tspan>WNIOSKI NA PODSTAWIE: MAGDALENA STARSKA, DAWID WIENER, ANDRZEJ KLAWITER, MARTIN HEIDEGGER,</text>
<text class="fn e" x="3027" y="1349">"KOMUNIKACJA. POGŁĘBIANIE POCZUCIA PRZESTRZENI"</text>
<text class="fn e" x="3027" y="1365"><tspan class="g">** </tspan>PODZIAŁ NA PODSTAWIE: EDWARD T.HALL "UKRYTY WYMIAR"</text>
<text class="fn e" x="3027" y="1382"><tspan class="g">*** </tspan>PODZIAŁ ZACYTOWANY Z: KRZYSZTOF KORŻYK, "PERCEPCJA: NATURA, STRUKTURA I FUNKCJA",</text>
<text class="fn e" x="3027" y="1396">W: AUTOPORTRET. PISMO O DOBREJ PRZESTRZENI. ZMYSŁY I PERCEPCJA: 35 (3/2011)</text>
</g>

<!-- relacja branch -->
<g id="relacja-box">
<text class="c" x="1504" y="876" style="font-size:5px;font-weight:400;fill:#777">Zależność relacji pomiędzy odbiorcą a przestrzenią</text>
<text class="c" x="1504" y="883" style="font-size:5px;font-weight:400;fill:#777">bywa wielostronna, tworząc powiązania różnej natury</text>
</g>
<g id="emocjonalna"><text class="l r c" x="1182" y="987">EMOCJONALNA</text></g>
<g id="przestrzenna"><text class="l r c" x="1504" y="987">PRZESTRZENNA</text></g>
<g id="spoleczna"><text class="l r c" x="1799" y="987">SPOŁECZNA</text></g>
<g id="proces-relacji"><text class="ml r c" x="1044" y="1066">PROCES RELACJI<tspan x="1044" y="1088">EMOCJONALNEJ*</tspan></text></g>
<g id="emocje-wynik"><text class="ml c" x="1223" y="1066">EMOCJE SĄ WYNIKIEM<tspan x="1223" y="1088">PROCESU PERCEPCJI</tspan></text></g>
<g id="emocje-zor"><text class="s3 c" x="1230" y="1125">EMOCJE SĄ ZORIENTOWANE<tspan x="1230" y="1142">NA PRZESZŁOŚĆ LUB PRZYSZŁOŚĆ</tspan></text></g>
<g id="emocje-przezycie"><text class="s2 c" x="1230" y="1186">SĄ WYNIKIEM PRZEŻYCIA<tspan x="1230" y="1201">LUB JEGO ZAPOWIEDZIĄ</tspan></text></g>
<g id="emocja-wstepna"><text class="m c" x="1103" y="1192">EMOCJA WSTĘPNA</text></g>
<g id="przezycie-est"><text class="s c" x="1103" y="1227">PRZEŻYCIE ESTETYCZNE</text></g>
<g id="emocja-wewn"><text class="m c" x="951" y="1233">EMOCJA WEWNĄTRZESTETYCZNA</text></g>
<g id="ustanawia"><text class="s c" x="951" y="1268">USTANAWIA ZWIĄZEK POMIĘDZY<tspan x="951" y="1284">ODBIORCĄ A PRZESTRZENIĄ</tspan></text></g>
<g id="emocja-finalna"><text class="m c" x="1101" y="1272">EMOCJA FINALNA</text></g>
<g id="wplywa"><text class="s c" x="1103" y="1305">WPŁYWA NA OSTATECZNY<tspan x="1103" y="1320">ODBIÓR PRZESTRZENI</tspan><tspan x="1103" y="1334">W CODZIENNYM ŻYCIU</tspan></text></g>
<g id="akceptacja"><text class="s c" x="1103" y="1366">AKCEPTACJA</text></g>
<g id="organizacja"><text class="ml c" x="1397" y="1066">ORGANIZACJA</text></g>
<g id="dystans"><text class="ml c" x="1632" y="1066">DYSTANS<tspan class="r">**</tspan></text></g>
<g id="miedzyludzka"><text class="ml c" x="1880" y="1066">MIĘDZYLUDZKA</text></g>
<g id="organizacja-items">
<text class="s3 c" x="1370" y="1133">BLISKOŚĆ</text>
<text class="s3 c" x="1440" y="1133">CIĄGŁOŚĆ</text>
<text class="s3 c" x="1510" y="1133">ZAMKNIĘCIE</text>
<text class="s c" x="1370" y="1173">MIEJSCE,<tspan x="1370" y="1189">CENTRUM</tspan></text>
<text class="s c" x="1440" y="1173">KIERUNKI,<tspan x="1440" y="1189">DROGI</tspan></text>
<text class="s c" x="1510" y="1173">OBSZAR,<tspan x="1510" y="1189">STREFA</tspan></text>
<text class="s2 c" x="1370" y="1227">TZW. PRZESTRZEŃ<tspan x="1370" y="1241">OSWOJONA</tspan></text>
<text class="s2 c" x="1440" y="1227">TZW. PRZESTRZEŃ<tspan x="1440" y="1241">DYNAMICZNA</tspan></text>
<text class="s2 c" x="1510" y="1227">OGRANICZENIE</text>
<text class="xs c lt" x="1372" y="1285">"NADAJĄC DOLINIE PRZEKSZTAŁCAMY<tspan x="1372" y="1298">PRZESTRZEŃ W MIEJSCE"</tspan><tspan x="1372" y="1310">KAROLINA KLIMCZAK</tspan></text>
</g>
<g id="dystans-items">
<text class="s3 c" x="1602" y="1133">INTYMNY</text>
<text class="s3 c" x="1677" y="1133">OSOBNICZY</text>
<text class="s3 c" x="1750" y="1133">SPOŁECZNY</text>
<text class="s3 c" x="1819" y="1133">PUBLICZNY</text>
<text class="s c" x="1602" y="1173">STREFA<tspan x="1602" y="1189">NAJBLIŻSZA</tspan><tspan x="1602" y="1203">- OSOBISTA</tspan></text>
<text class="s2 c" x="1602" y="1241">PERSONALNA<tspan x="1602" y="1256">- OSOBY BLISKIE</tspan></text>
<text class="s2 c" x="1602" y="1291">OK. 45 CM</text>
<text class="s c" x="1677" y="1173">STREFA PRYWATNA</text>
<text class="s2 c" x="1677" y="1211">OSOBY ZNANE</text>
<text class="s2 c" x="1677" y="1245">OK. 45-120 CM</text>
<text class="s c" x="1750" y="1173">CODZIENNE<tspan x="1750" y="1189">OTOCZENIE</tspan></text>
<text class="s2 c" x="1750" y="1226">OFICJALNE<tspan x="1750" y="1240">CZYNNOŚCI</tspan></text>
<text class="s2 c" x="1750" y="1274">OK. 120 - 360 CM</text>
<text class="s c" x="1819" y="1173">WAŻNE<tspan x="1819" y="1189">OSOBISTOŚCI</tspan></text>
<text class="s2 c" x="1819" y="1226">POW. 360 CM</text>
</g>
</svg>
